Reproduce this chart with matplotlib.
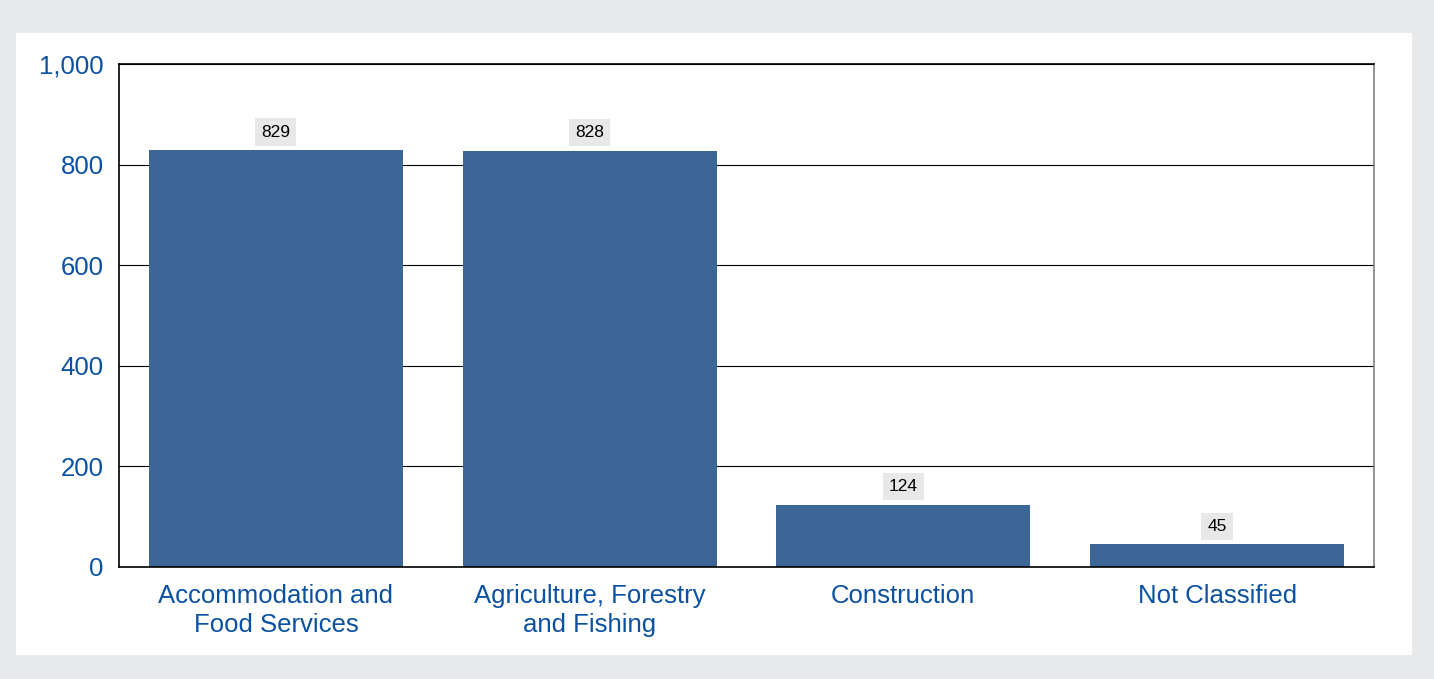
import matplotlib.pyplot as plt
from matplotlib.patches import Rectangle
from matplotlib.ticker import FuncFormatter

categories = ['Accommodation and\nFood Services', 'Agriculture, Forestry\nand Fishing',
              'Construction', 'Not Classified']
values = [829, 828, 124, 45]
yticks = [0, 200, 400, 600, 800, 1000]

bar_color = '#3b6696'
text_blue = '#0b51a1'

plt.rcParams['font.family'] = ['Liberation Sans', 'DejaVu Sans']

fig = plt.figure(figsize=(14.34, 6.79), dpi=100, facecolor='#e8e9eb')
W, H = 1434, 679
# white panel behind the chart
fig.patches.append(Rectangle((16 / W, 1 - 655 / H), (1412 - 16) / W, (655 - 33) / H,
                             transform=fig.transFigure, facecolor='white', edgecolor='none', zorder=-5))

ax = fig.add_axes([119 / W, 1 - 567 / H, (1374 - 119) / W, (567 - 64) / H], zorder=1)
x = range(len(categories))
ax.bar(x, values, width=0.81, color=bar_color, zorder=2)
ax.set_xlim(-0.5, 3.5)
ax.set_ylim(0, 1000)
ax.set_yticks(yticks)
ax.yaxis.set_major_formatter(FuncFormatter(lambda v, p: f'{int(v):,}'))
ax.set_xticks(list(x))
ax.set_xticklabels(categories, color=text_blue, fontsize=18.5, linespacing=1.28)
ax.tick_params(axis='y', colors=text_blue, labelsize=18.5, length=0, pad=11)
ax.tick_params(axis='x', length=0, pad=12)
ax.grid(axis='y', color='black', linewidth=0.8, zorder=1)
for s in ['top', 'bottom', 'left']:
    ax.spines[s].set_color('black')
    ax.spines[s].set_linewidth(1.2)
ax.spines['right'].set_color('#808080')
ax.spines['right'].set_linewidth(1.2)

for xi, v in zip(x, values):
    ax.annotate(str(v), (xi, v), xytext=(0, 18), textcoords='offset pixels',
                ha='center', va='center', fontsize=12.5, color='black',
                bbox=dict(boxstyle='square,pad=0.35', facecolor='#e8e8e8', edgecolor='none'))

fig.savefig('out.png', dpi=100, facecolor=fig.get_facecolor())
